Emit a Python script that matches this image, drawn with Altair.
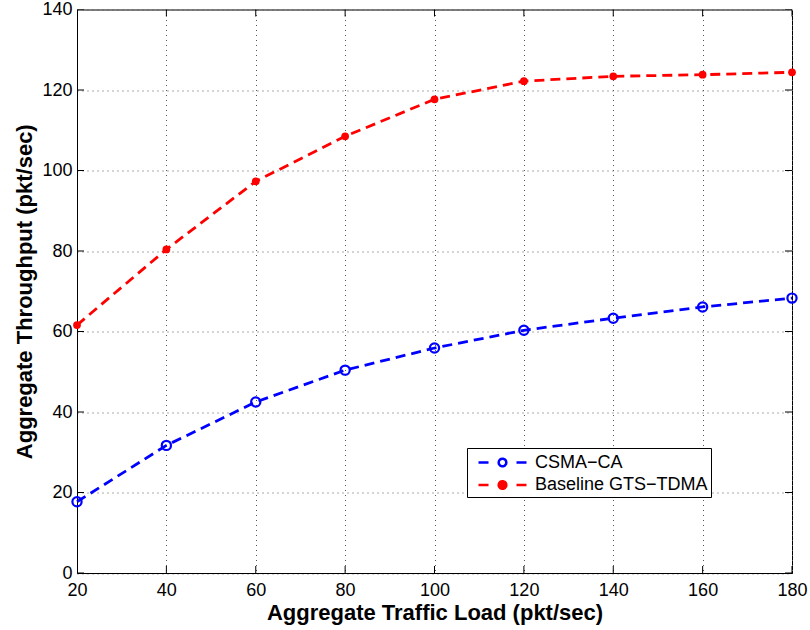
import altair as alt
import pandas as pd

loads = [20, 40, 60, 80, 100, 120, 140, 160, 180]
csma_ca = [17.7, 31.7, 42.5, 50.4, 55.9, 60.3, 63.3, 66.1, 68.3]
gts_tdma = [61.6, 80.4, 97.3, 108.5, 117.7, 122.2, 123.4, 123.8, 124.4]
series_names = ["CSMA\u2212CA", "Baseline GTS\u2212TDMA"]
series_colors = ["#0000ff", "#ff0000"]
x_ticks = [20, 40, 60, 80, 100, 120, 140, 160, 180]
y_ticks = [0, 20, 40, 60, 80, 100, 120, 140]

df = pd.DataFrame({
    "load": loads + loads,
    "thr": csma_ca + gts_tdma,
    "series": [series_names[0]] * len(loads) + [series_names[1]] * len(loads),
})
df_blue = pd.DataFrame({"load": loads, "thr": csma_ca})
df_red = pd.DataFrame({"load": loads, "thr": gts_tdma})
xt = pd.DataFrame({"t": x_ticks})
yt = pd.DataFrame({"t": y_ticks})

xs = alt.Scale(domain=[20, 180], nice=False, zero=False)
ys = alt.Scale(domain=[0, 140], nice=False)
cs = alt.Scale(domain=series_names, range=series_colors)

xaxis = alt.Axis(title="Aggregate Traffic Load (pkt/sec)", values=x_ticks, format="d",
                 grid=True, ticks=False, labelPadding=8, titleBaseline="alphabetic", titleY=46)
yaxis = alt.Axis(title="Aggregate Throughput (pkt/sec)", values=y_ticks, format="d",
                 grid=True, ticks=False, labelPadding=5, titleBaseline="alphabetic", titleX=-46)

sym_path = "M-0.3,0L0.7,0M3.5,0L4.5,0M2.48,0A0.38,0.38 0 1,1 1.72,0A0.38,0.38 0 1,1 2.48,0"

legend = alt.Legend(
    title=None, orient="none", legendX=390, legendY=438.5, direction="vertical",
    symbolType=sym_path, symbolSize=400, symbolStrokeWidth=2.5, symbolDash=[1, 0],
    symbolFillColor={"expr": "indexof(datum.value, 'Baseline') === 0 ? '#ff0000' : 'transparent'"},
    labelFont="Liberation Sans", labelFontSize=18, labelColor="black", labelOffset=42,
    labelLimit=400, padding=3, rowPadding=1.5, strokeColor="black", fillColor="white",
)

X = alt.X("load:Q", scale=xs, axis=xaxis)
Y = alt.Y("thr:Q", scale=ys, axis=yaxis)

lines = alt.Chart(df).mark_line(strokeWidth=2.8, strokeDash=[10, 6]).encode(
    x=X, y=Y, color=alt.Color("series:N", scale=cs, legend=legend)
)
blue_pts = alt.Chart(df_blue).mark_point(shape="circle", filled=False, size=85, strokeWidth=2.2,
                                          color="#0000ff", opacity=1).encode(x=X, y=Y)
red_pts = alt.Chart(df_red).mark_circle(size=60, color="#ff0000", opacity=1).encode(x=X, y=Y)

tick_style = dict(size=14, thickness=1, color="black", clip=True, opacity=1)
tb = alt.Chart(xt).mark_tick(orient="vertical", **tick_style).encode(
    x=alt.X("t:Q", scale=xs, axis=xaxis), y=alt.YDatum(0))
tt = alt.Chart(xt).mark_tick(orient="vertical", **tick_style).encode(
    x=alt.X("t:Q", scale=xs, axis=xaxis), y=alt.YDatum(140))
tl = alt.Chart(yt).mark_tick(orient="horizontal", **tick_style).encode(
    y=alt.Y("t:Q", scale=ys, axis=yaxis), x=alt.XDatum(20))
tr = alt.Chart(yt).mark_tick(orient="horizontal", **tick_style).encode(
    y=alt.Y("t:Q", scale=ys, axis=yaxis), x=alt.XDatum(180))

chart = alt.layer(lines, blue_pts, red_pts, tb, tt, tl, tr).properties(
    width=715, height=563.5, autosize="none",
    padding={"left": 77, "top": 9.5, "right": 18, "bottom": 57},
    background="white",
).configure_view(stroke="black", strokeWidth=1).configure_axis(
    labelFont="Liberation Sans", labelFontSize=18, labelColor="black",
    titleFont="Liberation Sans", titleFontSize=22, titleFontWeight="bold", titleColor="black",
    domainColor="black", domainWidth=1, gridColor="#555555", gridDash=[1, 4], gridWidth=1,
    gridOpacity=1, labelFlush=False, labelOverlap=False,
)

chart.save("out.html", embed_options={"renderer": "svg", "actions": False})
